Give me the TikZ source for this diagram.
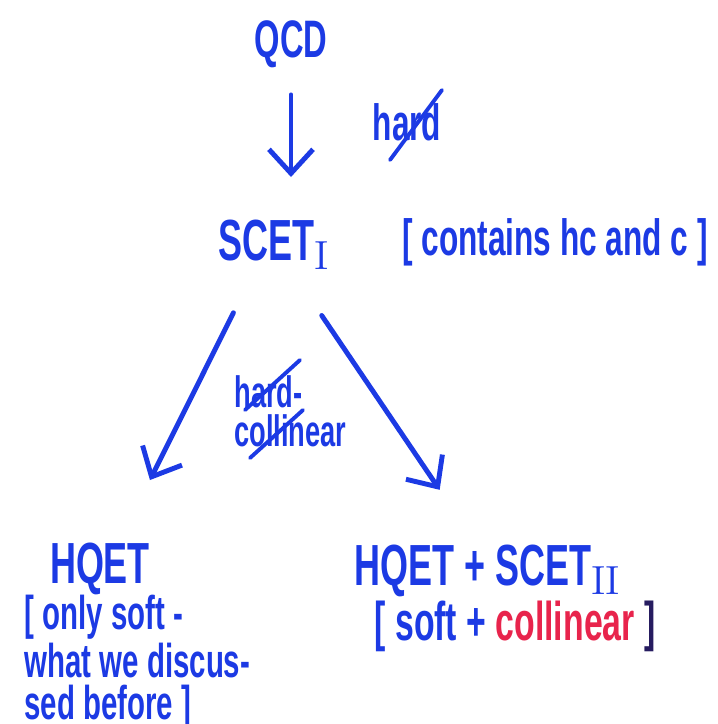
\documentclass[tikz,border=0pt]{standalone}
\usepackage{fontspec}
\usetikzlibrary{arrows.meta}
\newfontfamily\handfont[FakeStretch=0.62]{Liberation Sans}
\definecolor{penB}{RGB}{28,58,228}
\definecolor{penR}{RGB}{232,36,76}
\definecolor{penK}{RGB}{38,28,96}

\begin{document}
\begin{tikzpicture}[x=0.01cm,y=-0.01cm,line width=1.4pt,penB,line cap=round,
  >={Straight Barb[length=2.4mm,width=4.4mm]},
  big/.style={font=\handfont\bfseries\fontsize{16.5}{18}\selectfont,inner sep=0pt,text=penB,anchor=base},
  note/.style={font=\handfont\bfseries\fontsize{14.5}{12}\selectfont,inner sep=0pt,text=penB,align=left},
  strike/.style={line width=1.1pt,penB}]
\useasboundingbox (0,0) rectangle (717,724);
% levels of the tower
\node[big,font=\handfont\bfseries\fontsize{15}{18}\selectfont] (qcd) at (291,57) {QCD};
\node[big] (scet1) at (275,260) {SCET$_\mathrm{I}$};
\node[big] (hqet) at (100,583) {HQET};
\node[big] (hqscet) at (488,585) {HQET + SCET$_\mathrm{II}$};
% remarks
\node[note,anchor=base] (contains) at (555,255) {[ contains hc and c ]};
\node[note,anchor=base] (hard) at (407,140) {hard};
\node[note,font=\handfont\bfseries\fontsize{12.5}{11}\selectfont,anchor=north west] (hardcoll) at (232,373) {hard-\\collinear};
\node[note,font=\handfont\bfseries\fontsize{13.5}{11.8}\selectfont,anchor=north west] (onlysoft) at (22,593)
  {[ only soft -\\what we discus-\\sed before ]};
\node[note,font=\handfont\bfseries\fontsize{15.5}{18}\selectfont,anchor=base] (softcoll) at (515,640)
  {[ soft + \textcolor{penR}{collinear} \textcolor{penK}{]}};
% arrows
\draw[->,shorten <=0.25cm,shorten >=0.4cm] (qcd.south) -- (qcd.south |- scet1.north);
\draw[->,shorten <=0.46cm,shorten >=0.67cm] ([xshift=-0.21cm]scet1.south) -- ([xshift=0.2cm]hqet.north);
\draw[->,shorten <=0.53cm,shorten >=0.63cm] ([xshift=0.17cm]scet1.south) -- ([xshift=-0.13cm]hqscet.north);
% crossed out
\draw[strike] (390,160) -- (442,90);
\draw[strike] (245,410) -- (300,360);
\draw[strike] (250,458) -- (303,410);
\end{tikzpicture}
\end{document}
